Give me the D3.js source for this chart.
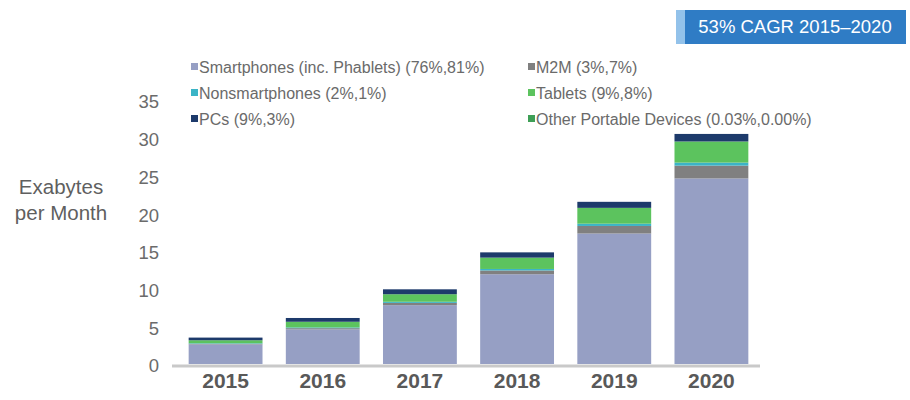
<!DOCTYPE html>
<html>
<head>
<meta charset="utf-8">
<script src="https://cdn.jsdelivr.net/npm/d3@7"></script>
<style>
  html, body { margin: 0; padding: 0; background: #fff; }
  svg { display: block; font-family: "Liberation Sans", Arial, sans-serif; }
</style>
</head>
<body>
<svg id="chart"></svg>
<script>
// values, exabytes per month
const years = ['2015', '2016', '2017', '2018', '2019', '2020'];
const smartphones = [2.6, 4.6, 7.8, 11.9, 17.3, 24.6];
const m2m = [0.08, 0.15, 0.3, 0.5, 1.0, 1.7];
const nonsmartphones = [0.07, 0.1, 0.15, 0.2, 0.3, 0.4];
const tablets = [0.4, 0.75, 1.0, 1.5, 2.1, 2.8];
const otherPortable = [0.001, 0.001, 0.001, 0.001, 0.001, 0.001];
const pcs = [0.35, 0.5, 0.65, 0.7, 0.8, 1.0];
const yTicks = [0, 5, 10, 15, 20, 25, 30, 35];

const series = [
  { key: 'smart', label: 'Smartphones (inc. Phablets) (76%,81%)', values: smartphones, color: '#969fc4' },
  { key: 'm2m', label: 'M2M (3%,7%)', values: m2m, color: '#808080' },
  { key: 'nonsmart', label: 'Nonsmartphones (2%,1%)', values: nonsmartphones, color: '#3bb4c6' },
  { key: 'tablets', label: 'Tablets (9%,8%)', values: tablets, color: '#5cc35e' },
  { key: 'other', label: 'Other Portable Devices (0.03%,0.00%)', values: otherPortable, color: '#3e9f56' },
  { key: 'pcs', label: 'PCs (9%,3%)', values: pcs, color: '#1d3a6b' }
];
// legend layout order: col 1 then col 2
const legendOrder = [['smart', 'nonsmart', 'pcs'], ['m2m', 'tablets', 'other']];

const width = 910, height = 400;
const svg = d3.select('#chart').attr('width', width).attr('height', height);

const rows = years.map((y, i) => {
  const r = { year: y };
  series.forEach(s => { r[s.key] = s.values[i]; });
  return r;
});
const stacked = d3.stack().keys(series.map(s => s.key))(rows);

const x = d3.scaleBand().domain(years).range([177, 760]).paddingInner(0.24).paddingOuter(0.12);
const y = d3.scaleLinear().domain([0, 35]).range([364, 100]);

// bars
svg.append('g')
  .selectAll('g')
  .data(stacked)
  .join('g')
  .attr('fill', d => series.find(s => s.key === d.key).color)
  .selectAll('rect')
  .data(d => d)
  .join('rect')
  .attr('x', d => x(d.data.year))
  .attr('y', d => y(d[1]))
  .attr('width', x.bandwidth())
  .attr('height', d => y(d[0]) - y(d[1]));

// baseline
svg.append('line')
  .attr('x1', 172).attr('x2', 760)
  .attr('y1', y(0) + 2).attr('y2', y(0) + 2)
  .attr('stroke', '#c9c9c9').attr('stroke-width', 3);

// y axis labels
const yAxis = svg.append('g')
  .attr('transform', 'translate(159,2)')
  .call(d3.axisLeft(y).tickValues(yTicks).tickSize(0).tickPadding(0));
yAxis.select('.domain').remove();
yAxis.selectAll('text')
  .attr('fill', '#6b6b6b')
  .style('font-size', '18.5px');

// x axis labels
const xAxis = svg.append('g')
  .attr('transform', 'translate(0,' + (y(0) + 5) + ')')
  .call(d3.axisBottom(x).tickSize(0).tickPadding(4));
xAxis.select('.domain').remove();
xAxis.selectAll('text')
  .attr('fill', '#595959')
  .style('font-size', '21px')
  .style('font-weight', 'bold');

// y title
const title = svg.append('text')
  .attr('x', 61).attr('y', 194)
  .attr('text-anchor', 'middle')
  .attr('fill', '#5f5f5f')
  .style('font-size', '20.5px');
title.append('tspan').attr('x', 61).text('Exabytes');
title.append('tspan').attr('x', 61).attr('dy', 26).text('per Month');

// legend
const legendX = [191, 528];
const legendY = [67, 93, 119];
legendOrder.forEach((col, ci) => {
  col.forEach((key, ri) => {
    const s = series.find(t => t.key === key);
    const g = svg.append('g').attr('transform', `translate(${legendX[ci]},${legendY[ri]})`);
    g.append('rect').attr('x', 0).attr('y', -4).attr('width', 7).attr('height', 7).attr('fill', s.color);
    g.append('text').attr('x', 8).attr('y', 0).attr('dy', '0.35em')
      .attr('fill', '#6a6a6a').style('font-size', '16px').text(s.label);
  });
});

// CAGR badge
svg.append('rect').attr('x', 676).attr('y', 10).attr('width', 9).attr('height', 34).attr('fill', '#93c2ea');
svg.append('rect').attr('x', 685).attr('y', 10).attr('width', 221).attr('height', 34).attr('fill', '#2f7cc5');
svg.append('text')
  .attr('x', 795).attr('y', 27).attr('dy', '0.35em')
  .attr('text-anchor', 'middle')
  .attr('fill', '#fff')
  .style('font-size', '18.5px')
  .text('53% CAGR 2015\u20132020');
</script>
</body>
</html>
